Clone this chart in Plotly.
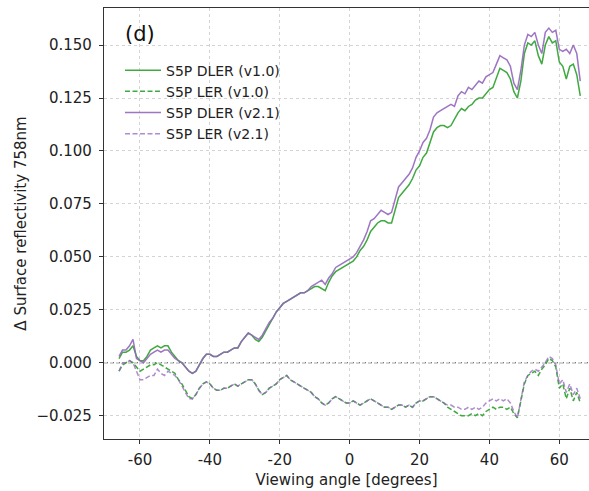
import plotly.graph_objects as go

angles = [-66, -65, -64, -63, -62, -61, -60, -59, -58, -57, -56, -55, -54, -53, -52, -51, -50,
          -49, -48, -47, -46, -45, -44, -43, -42, -41, -40, -39, -38, -37, -36, -35, -34, -33,
          -32, -31, -30, -29, -28, -27, -26, -25, -24, -23, -22, -21, -20, -19, -18, -17, -16,
          -15, -14, -13, -12, -11, -10, -9, -8, -7, -6, -5, -4, -3, -2, -1, 0, 1, 2, 3, 4, 5,
          6, 7, 8, 9, 10, 11, 12, 13, 14, 15, 16, 17, 18, 19, 20, 21, 22, 23, 24, 25, 26, 27,
          28, 29, 30, 31, 32, 33, 34, 35, 36, 37, 38, 39, 40, 41, 42, 43, 44, 45, 46, 47, 48,
          49, 50, 51, 52, 53, 54, 55, 56, 57, 58, 59, 60, 61, 62, 63, 64, 65, 66]

dler_v10 = [0.002, 0.005, 0.005, 0.006, 0.008, 0.003, 0.001, 0.001, 0.003, 0.006, 0.007, 0.008,
            0.007, 0.008, 0.008, 0.005, 0.003, 0.001, 0.000, -0.002, -0.004, -0.005, -0.004,
            -0.001, 0.002, 0.004, 0.004, 0.003, 0.003, 0.004, 0.005, 0.005, 0.006, 0.007, 0.007,
            0.010, 0.012, 0.014, 0.013, 0.011, 0.010, 0.012, 0.015, 0.018, 0.021, 0.024, 0.026,
            0.028, 0.029, 0.030, 0.031, 0.032, 0.033, 0.033, 0.034, 0.035, 0.036, 0.036, 0.035,
            0.034, 0.038, 0.041, 0.043, 0.044, 0.045, 0.046, 0.047, 0.048, 0.050, 0.053, 0.055,
            0.058, 0.062, 0.064, 0.066, 0.067, 0.067, 0.066, 0.066, 0.072, 0.078, 0.080, 0.082,
            0.084, 0.087, 0.091, 0.093, 0.097, 0.099, 0.104, 0.109, 0.111, 0.112, 0.112, 0.111,
            0.112, 0.115, 0.118, 0.120, 0.119, 0.121, 0.122, 0.124, 0.125, 0.125, 0.127, 0.129,
            0.130, 0.135, 0.139, 0.138, 0.137, 0.134, 0.128, 0.125, 0.133, 0.146, 0.151, 0.150,
            0.152, 0.145, 0.141, 0.150, 0.154, 0.151, 0.152, 0.142, 0.140, 0.134, 0.140, 0.141,
            0.136, 0.126]

ler_v10 = [-0.004, -0.001, 0.000, 0.001, 0.000, -0.002, -0.004, -0.003, -0.002, -0.001, -0.001,
           0.000, -0.001, -0.002, -0.003, -0.004, -0.005, -0.008, -0.010, -0.013, -0.016, -0.017,
           -0.015, -0.012, -0.010, -0.009, -0.010, -0.012, -0.013, -0.013, -0.012, -0.012, -0.011,
           -0.010, -0.011, -0.010, -0.009, -0.008, -0.008, -0.010, -0.013, -0.015, -0.014, -0.012,
           -0.011, -0.010, -0.008, -0.007, -0.006, -0.008, -0.009, -0.010, -0.011, -0.012, -0.013,
           -0.014, -0.016, -0.017, -0.019, -0.020, -0.019, -0.017, -0.016, -0.017, -0.018, -0.019,
           -0.019, -0.018, -0.019, -0.020, -0.019, -0.018, -0.017, -0.018, -0.019, -0.020, -0.021,
           -0.021, -0.022, -0.021, -0.020, -0.020, -0.021, -0.020, -0.021, -0.019, -0.018, -0.018,
           -0.017, -0.016, -0.016, -0.017, -0.018, -0.019, -0.021, -0.022, -0.023, -0.024, -0.025,
           -0.025, -0.025, -0.024, -0.025, -0.024, -0.025, -0.023, -0.022, -0.021, -0.022, -0.021,
           -0.021, -0.022, -0.021, -0.024, -0.026, -0.018, -0.010, -0.006, -0.005, -0.004, -0.006,
           -0.003, -0.001, 0.002, 0.001, -0.002, -0.012, -0.010, -0.017, -0.012, -0.018, -0.014,
           -0.019]

dler_v21 = [0.003, 0.006, 0.006, 0.008, 0.011, 0.002, 0.001, 0.000, 0.002, 0.004, 0.005, 0.006,
            0.005, 0.006, 0.006, 0.004, 0.002, 0.001, 0.000, -0.002, -0.004, -0.005, -0.004,
            -0.001, 0.002, 0.004, 0.004, 0.003, 0.003, 0.004, 0.005, 0.005, 0.006, 0.007, 0.007,
            0.010, 0.012, 0.014, 0.013, 0.012, 0.011, 0.013, 0.016, 0.019, 0.021, 0.024, 0.026,
            0.028, 0.029, 0.030, 0.031, 0.032, 0.033, 0.033, 0.034, 0.036, 0.037, 0.038, 0.039,
            0.037, 0.040, 0.042, 0.045, 0.046, 0.047, 0.048, 0.049, 0.050, 0.052, 0.055, 0.058,
            0.062, 0.067, 0.068, 0.070, 0.072, 0.071, 0.070, 0.071, 0.077, 0.083, 0.085, 0.087,
            0.089, 0.092, 0.097, 0.100, 0.104, 0.106, 0.110, 0.116, 0.118, 0.119, 0.120, 0.121,
            0.122, 0.121, 0.126, 0.128, 0.127, 0.130, 0.129, 0.131, 0.133, 0.132, 0.135, 0.136,
            0.137, 0.141, 0.145, 0.144, 0.143, 0.140, 0.132, 0.129, 0.138, 0.150, 0.155, 0.154,
            0.156, 0.150, 0.146, 0.156, 0.158, 0.156, 0.157, 0.148, 0.147, 0.148, 0.146, 0.150,
            0.146, 0.133]

ler_v21 = [-0.004, 0.000, 0.000, 0.001, 0.000, -0.004, -0.008, -0.008, -0.007, -0.006, -0.006,
           -0.003, -0.005, -0.006, -0.004, -0.005, -0.006, -0.008, -0.011, -0.014, -0.017, -0.017,
           -0.015, -0.012, -0.010, -0.009, -0.010, -0.012, -0.013, -0.013, -0.012, -0.012, -0.011,
           -0.010, -0.011, -0.010, -0.009, -0.008, -0.008, -0.010, -0.013, -0.015, -0.014, -0.012,
           -0.011, -0.010, -0.008, -0.007, -0.006, -0.008, -0.009, -0.010, -0.011, -0.012, -0.013,
           -0.014, -0.016, -0.017, -0.019, -0.020, -0.019, -0.017, -0.016, -0.017, -0.018, -0.019,
           -0.019, -0.018, -0.019, -0.020, -0.019, -0.018, -0.017, -0.018, -0.019, -0.020, -0.021,
           -0.021, -0.022, -0.021, -0.020, -0.020, -0.021, -0.020, -0.021, -0.019, -0.018, -0.018,
           -0.017, -0.016, -0.016, -0.017, -0.018, -0.019, -0.020, -0.020, -0.021, -0.021, -0.022,
           -0.022, -0.021, -0.022, -0.021, -0.022, -0.021, -0.019, -0.018, -0.017, -0.018, -0.017,
           -0.018, -0.017, -0.019, -0.023, -0.026, -0.017, -0.009, -0.006, -0.004, -0.003, -0.004,
           -0.002, 0.000, 0.003, 0.002, -0.001, -0.010, -0.008, -0.014, -0.010, -0.015, -0.012,
           -0.017]

x_ticks = [-60, -40, -20, 0, 20, 40, 60]
x_tick_labels = ["-60", "-40", "-20", "0", "20", "40", "60"]
y_ticks = [-0.025, 0.000, 0.025, 0.050, 0.075, 0.100, 0.125, 0.150]

GREEN = "#2ca02c"
PURPLE = "#9467bd"
FONT = "DejaVu Sans"
DASH = "5px,2.5px"

fig = go.Figure()
fig.add_trace(go.Scatter(x=angles, y=dler_v10, mode="lines", name="S5P DLER (v1.0)",
                         line=dict(color=GREEN, width=1.5), opacity=0.9))
fig.add_trace(go.Scatter(x=angles, y=ler_v10, mode="lines", name="S5P LER (v1.0)",
                         line=dict(color=GREEN, width=1.5, dash=DASH), opacity=0.9))
fig.add_trace(go.Scatter(x=angles, y=dler_v21, mode="lines", name="S5P DLER (v2.1)",
                         line=dict(color=PURPLE, width=1.5), opacity=0.9))
fig.add_trace(go.Scatter(x=angles, y=ler_v21, mode="lines", name="S5P LER (v2.1)",
                         line=dict(color=PURPLE, width=1.5, dash=DASH), opacity=0.75))

fig.add_hline(y=0, line=dict(color="#333333", width=0.9, dash="4px,2px"), layer="below")

fig.add_annotation(text="(d)", x=0.04, y=0.94, xref="paper", yref="paper",
                   xanchor="left", yanchor="middle", showarrow=False,
                   font=dict(family=FONT, size=21, color="#111111"))

fig.update_layout(
    width=589, height=491,
    margin=dict(l=104, r=0, t=8, b=52),
    paper_bgcolor="white", plot_bgcolor="white",
    font=dict(family=FONT, size=15, color="#222222"),
    showlegend=True,
    hovermode=False,
    legend=dict(x=0.033, y=0.892, xanchor="left", yanchor="top",
                bgcolor="rgba(0,0,0,0)", font=dict(family=FONT, size=14, color="#222222"),
                tracegroupgap=0, itemwidth=36),
)
fig.update_xaxes(range=[-70.3, 68.5], tickvals=x_ticks, ticktext=x_tick_labels,
                 showgrid=True, gridcolor="#d4d4d4", griddash="dot", gridwidth=1,
                 showline=True, mirror=True, linecolor="#333333", linewidth=1.2,
                 ticks="outside", ticklen=4, tickcolor="#333333", zeroline=False,
                 ticklabelstandoff=3,
                 title=dict(text="Viewing angle [degrees]", standoff=6,
                            font=dict(family=FONT, size=15)))
fig.update_yaxes(range=[-0.036, 0.1675], tickvals=y_ticks, tickformat=".3f",
                 showgrid=True, gridcolor="#d4d4d4", griddash="dot", gridwidth=1,
                 showline=True, mirror=False, linecolor="#333333", linewidth=1.2,
                 ticks="outside", ticklen=4, tickcolor="#333333", zeroline=False,
                 ticklabelstandoff=4,
                 title=dict(text="Δ Surface reflectivity 758nm", standoff=6,
                            font=dict(family=FONT, size=15)))

fig.write_html("out.html", config={"displayModeBar": False},
               post_script="document.body.style.margin='0';")
